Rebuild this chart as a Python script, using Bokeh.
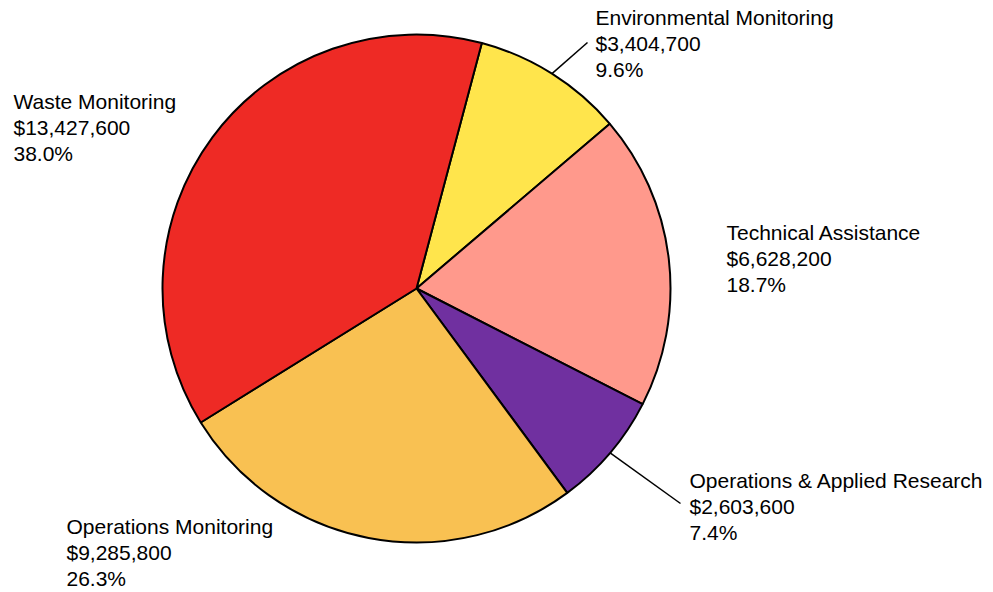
import math
from bokeh.plotting import figure
from bokeh.models import Range1d, ColumnDataSource
from bokeh.core.properties import value
from bokeh.embed import file_html
from bokeh.resources import INLINE

# ---- data (clockwise order) ----
categories = ["Environmental Monitoring", "Technical Assistance",
              "Operations & Applied Research", "Operations Monitoring",
              "Waste Monitoring"]
amounts = [3404700, 6628200, 2603600, 9285800, 13427600]
percents = [9.6, 18.7, 7.4, 26.3, 38.0]
colors = ["#FFE54C", "#FF998C", "#7030A0", "#F9C152", "#EE2A25"]

# ---- layout ----
W, H = 993, 592
CX, CY, R = 416, 288, 254
START = 14.9  # degrees clockwise from top
label_pos = [(595, 17), (726, 232), (689, 480), (66, 526), (13, 101)]
leader_end = [(587, 42), None, (680, 503), None, None]
LINE_GAP = 26

total = sum(amounts)
fracs = [a / total for a in amounts]
starts, ends, mids = [], [], []
acc = START
for f in fracs:
    a0 = acc
    a1 = acc + f * 360
    starts.append(90 - a0)
    ends.append(90 - a1)
    mids.append((a0 + a1) / 2)
    acc = a1

p = figure(width=W, height=H, output_backend="svg", toolbar_location=None,
           x_range=Range1d(0, W), y_range=Range1d(-H, 0),
           min_border=0, outline_line_color=None)
p.axis.visible = False
p.grid.visible = False
p.background_fill_color = "white"
p.border_fill_color = "white"

src = ColumnDataSource(dict(start=starts, end=ends, color=colors,
                            x=[CX] * 5, y=[-CY] * 5))
p.wedge(x="x", y="y", radius=R, radius_units="screen",
        start_angle="start", end_angle="end", start_angle_units="deg",
        end_angle_units="deg", direction="clock", fill_color="color",
        line_color="black", line_width=2, source=src)

# leader lines
for i, end in enumerate(leader_end):
    if end is None:
        continue
    th = math.radians(mids[i])
    sx = CX + R * math.sin(th)
    sy = CY - R * math.cos(th)
    p.line([sx, end[0]], [-sy, -end[1]], line_color="black", line_width=1.5)

lines1 = categories
lines2 = ["${:,}".format(a) for a in amounts]
lines3 = ["{:.1f}%".format(v) for v in percents]
lx = [lp[0] for lp in label_pos]
ly = [-lp[1] for lp in label_pos]
for k, txt in enumerate([lines1, lines2, lines3]):
    p.text(x=lx, y=[y - k * LINE_GAP for y in ly], text=txt,
           text_font=value("Liberation Sans"), text_font_size="21px",
           text_color="black", text_baseline="alphabetic", text_align="left")

open("out.html", "w").write(file_html(p, INLINE))
